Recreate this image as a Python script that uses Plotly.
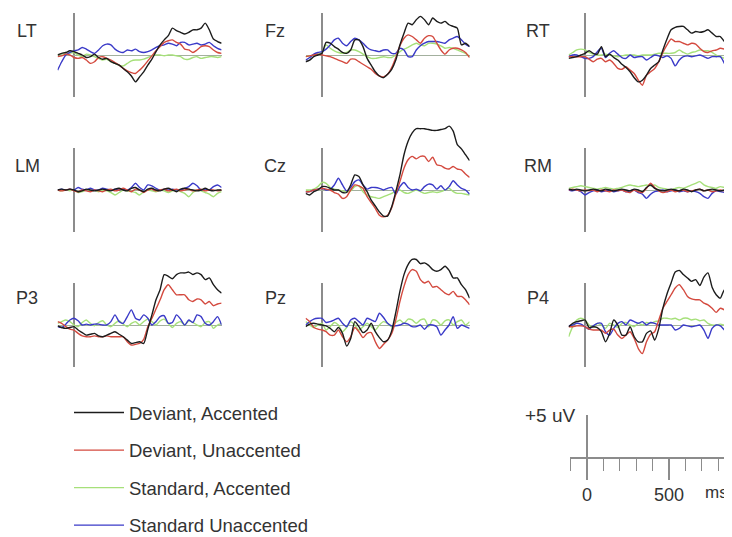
import plotly.graph_objects as go

W, H = 732, 537
TIME_MS = list(range(-100, 901, 25))

CONDITIONS = ["Deviant, Accented", "Deviant, Unaccented", "Standard, Accented", "Standard Unaccented"]
COLORS = ["#1c1c1c", "#d44a3f", "#a6e07a", "#3a3ac8"]
ELECTRODES = ["LT", "Fz", "RT", "LM", "Cz", "RM", "P3", "Pz", "P4"]

# ---- amplitudes (uV), one value per TIME_MS sample ----
LT_DEV_ACC = [0.0, 0.2, 0.3, 0.5, 0.4, 0.2, 0.0, -0.3, -0.2, 0.1, -0.3, -0.5, -0.4, -0.8, -1.0, -1.2, -1.6, -2.0, -2.5, -3.2, -2.6, -2.0, -1.2, -0.5, 0.4, 1.2, 1.8, 2.3, 3.2, 2.9, 2.7, 2.5, 2.7, 3.0, 3.0, 3.2, 3.8, 3.0, 1.9, 1.6, 1.4]
LT_DEV_UNACC = [-0.2, -0.1, 0.1, 0.0, -0.3, -0.4, -0.3, -0.6, -1.0, -0.8, -0.3, -0.2, -0.4, -0.6, -0.9, -1.2, -1.6, -1.9, -2.1, -2.2, -1.8, -1.3, -0.7, -0.1, 0.5, 1.0, 1.5, 1.7, 1.8, 1.5, 1.3, 0.7, 0.6, 0.3, 0.6, 1.0, 1.1, 1.0, 0.6, 0.3, 0.2]
LT_STD_ACC = [0.0, 0.1, 0.3, 0.2, 0.3, 0.0, -0.2, 0.1, 0.0, -0.2, -0.4, -0.6, -0.5, -0.8, -1.0, -1.2, -1.3, -1.0, -0.7, -0.6, -0.6, -0.5, -0.3, -0.1, 0.0, 0.0, -0.1, 0.0, 0.0, -0.1, -0.2, -0.5, -0.5, -0.3, -0.2, -0.4, -0.3, -0.2, -0.2, -0.3, -0.2]
LT_STD_UNACC = [-1.8, -0.8, 0.0, 0.3, 0.5, 0.6, 0.9, 0.7, 0.4, 0.2, 0.6, 1.1, 1.3, 1.2, 0.7, 0.4, 0.3, 0.6, 0.5, 0.7, 0.4, 0.3, 0.4, 0.6, 0.9, 1.1, 1.2, 1.4, 1.3, 1.1, 1.5, 1.5, 1.2, 1.3, 1.4, 1.2, 1.3, 1.5, 1.1, 0.8, 0.6]

FZ_DEV_ACC = [-0.8, -0.6, -0.2, 0.0, 0.2, 1.5, 1.4, 1.0, 0.7, 0.3, 0.2, 0.6, 1.8, 1.8, 1.0, -0.4, -1.2, -2.0, -2.5, -2.7, -2.3, -1.7, -0.6, 1.2, 2.6, 3.8, 3.6, 4.2, 4.6, 4.2, 3.6, 4.4, 4.0, 3.8, 4.0, 3.6, 3.4, 3.2, 1.2, 1.4, 1.0]
FZ_DEV_UNACC = [-0.2, -0.1, 0.0, 0.1, 0.0, -0.1, -0.2, -0.4, -0.6, -0.8, -1.0, -0.5, -0.5, -0.8, -1.1, -1.4, -1.7, -2.2, -2.5, -2.6, -2.3, -1.5, -0.3, 1.1, 2.0, 2.4, 2.2, 1.8, 1.4, 2.0, 2.3, 2.2, 1.4, 0.6, 0.1, 0.6, 0.8, 0.8, 0.6, 0.3, -0.3]
FZ_STD_ACC = [-0.2, -0.1, 0.0, 0.1, 0.3, 1.2, 0.8, 0.5, 0.3, 0.2, 0.3, 0.6, 0.6, 0.4, 0.1, -0.2, -0.4, -0.4, -0.3, -0.2, -0.3, -0.3, 0.0, 0.4, 0.7, 0.9, 1.2, 1.4, 1.2, 1.1, 1.4, 1.4, 1.3, 1.1, 0.8, 0.9, 0.8, 0.6, 0.4, 0.2, -0.2]
FZ_STD_UNACC = [-0.6, -0.3, 0.1, 0.3, 0.4, 0.7, 1.2, 1.8, 2.0, 1.4, 1.1, 1.6, 2.0, 1.8, 1.4, 0.9, 0.6, 0.5, 0.4, 0.6, 0.6, 0.2, 0.2, 0.8, 0.6, -0.2, -0.2, 0.6, 1.1, 1.4, 1.6, 1.6, 1.6, 1.5, 1.4, 1.8, 2.0, 2.2, 1.8, 1.3, 1.0]

RT_DEV_ACC = [-0.4, -0.3, -0.2, 0.0, 0.2, 0.5, 0.2, 0.1, 1.0, -0.2, 0.1, -0.3, -0.6, -1.1, -1.5, -2.0, -2.7, -3.2, -3.0, -2.4, -1.6, -1.2, -0.8, 0.6, 1.9, 3.0, 3.3, 3.4, 3.4, 3.0, 2.6, 2.8, 2.7, 2.8, 3.0, 2.6, 2.2, 2.2, 1.6, 1.3, 1.0]
RT_DEV_UNACC = [-0.2, -0.2, -0.2, -0.2, -0.2, -0.5, -0.8, -0.5, -0.4, -0.8, -0.6, -1.0, -1.6, -1.7, -1.4, -1.8, -2.2, -3.0, -3.6, -2.4, -2.0, -1.6, -0.8, 0.3, 1.2, 1.9, 1.6, 1.6, 1.4, 1.2, 1.4, 1.3, 0.8, 0.4, 0.3, 0.5, 0.6, 0.8, 0.7, 0.5, 0.2]
RT_STD_ACC = [0.0, 0.3, 0.6, 0.7, 0.6, 0.3, 0.1, 0.0, 0.0, 0.1, 0.0, -0.1, -0.2, -0.1, 0.0, 0.0, 0.0, -0.1, 0.0, 0.0, 0.0, 0.1, 0.2, 0.2, 0.2, 0.2, 0.3, 0.6, 0.3, 0.1, 0.3, 0.4, 0.6, 0.5, 0.5, 0.3, 0.0, -0.2, -0.4, -1.0, -1.6]
RT_STD_UNACC = [-0.2, 0.0, 0.0, -0.2, -0.4, -0.4, -0.2, 0.4, 0.8, -0.3, 0.2, 0.5, 0.1, -0.3, -0.4, 0.0, -0.3, -0.2, -0.2, -0.6, -0.3, 0.0, -0.1, -0.3, -0.1, -0.4, -1.3, -0.6, -0.2, -0.1, -0.2, -0.1, 0.0, -0.2, -0.4, -0.2, -0.2, -0.2, -1.0, -2.2, -3.0]

LM_DEV_ACC = [0.0, 0.1, 0.0, 0.1, 0.0, -0.2, -0.1, 0.1, 0.0, -0.1, 0.0, 0.1, 0.0, -0.1, 0.1, 0.2, 0.0, -0.1, 0.2, 0.3, 0.0, -0.2, 0.1, 0.2, 0.0, -0.1, 0.1, 0.2, 0.0, -0.2, 0.1, 0.2, 0.1, 0.0, -0.1, 0.0, 0.2, 0.0, -0.1, 0.0, 0.0]
LM_DEV_UNACC = [0.0, -0.1, 0.0, 0.1, -0.1, -0.2, 0.0, -0.1, -0.2, 0.0, -0.1, -0.2, 0.0, 0.1, -0.1, 0.0, 0.2, 0.0, -0.2, 0.1, 0.0, -0.3, 0.0, 0.1, -0.1, 0.0, 0.1, -0.1, 0.0, 0.1, -0.1, 0.0, 0.1, -0.1, 0.0, 0.1, -0.1, 0.0, 0.0, -0.1, 0.0]
LM_STD_ACC = [0.0, -0.1, 0.0, -0.1, 0.0, -0.3, -0.2, 0.0, -0.1, 0.0, -0.2, 0.0, -0.1, -0.3, -0.6, -0.3, 0.0, -0.1, -0.2, -0.3, -0.6, -0.2, 0.0, -0.1, -0.2, 0.0, -0.1, -0.3, -0.1, 0.0, -0.2, -0.4, -0.8, -0.3, 0.0, -0.1, -0.3, -0.5, -0.8, -0.4, -0.2]
LM_STD_UNACC = [0.0, 0.1, 0.0, 0.1, 0.0, 0.3, 0.1, 0.0, 0.2, 0.0, 0.0, 0.2, 0.1, 0.0, 0.1, 0.0, 0.1, 0.0, 0.3, 0.8, 0.3, 0.0, 0.6, 0.5, 0.2, 0.0, 0.1, 0.0, 0.1, 0.0, 0.0, 0.2, 0.4, 0.8, 0.5, 0.0, 0.1, 0.0, 0.4, 0.6, 0.3]

CZ_DEV_ACC = [-0.4, -0.6, -0.2, 0.0, 0.4, 0.4, 0.2, 0.0, 0.0, -0.3, -0.3, 0.6, 1.8, 1.6, 0.6, -0.2, -1.2, -1.9, -2.6, -3.1, -3.1, -2.0, -0.2, 1.8, 4.2, 5.8, 6.8, 7.3, 7.3, 7.3, 7.2, 7.1, 7.1, 7.2, 7.3, 7.6, 7.0, 5.4, 4.9, 4.2, 3.5]
CZ_DEV_UNACC = [-0.2, -0.2, 0.0, 0.1, 0.2, 0.1, 0.0, -0.3, -0.5, -1.0, -0.8, 0.0, 0.6, 0.5, 0.2, -0.8, -1.5, -2.2, -3.0, -3.2, -3.0, -2.1, -0.5, 1.0, 2.6, 3.6, 4.0, 3.7, 4.0, 4.0, 3.4, 3.9, 3.0, 2.9, 2.6, 2.5, 2.8, 2.5, 2.4, 1.9, 1.5]
CZ_STD_ACC = [0.0, 0.0, 0.1, 0.4, 0.9, 0.8, 0.3, 0.1, 0.0, -0.1, -0.2, -0.1, 0.4, 0.5, -0.2, -0.6, -0.8, -0.9, -1.0, -0.8, -0.6, -0.4, -0.1, 0.0, -0.3, -0.4, -0.2, 0.0, -0.2, -0.4, -0.3, -0.2, -0.3, -0.2, 0.0, 0.2, -0.2, -0.4, -0.4, -0.5, -0.6]
CZ_STD_UNACC = [-0.2, -0.2, 0.0, 0.1, 0.2, 0.0, 0.1, 0.6, 1.4, 0.6, -0.1, 0.3, 1.0, 1.2, 0.6, 0.1, 0.3, 0.3, 0.2, 0.0, 0.2, 0.3, -0.5, 0.4, 0.9, 0.3, 0.0, 0.1, -0.1, 0.4, 0.7, 0.6, 0.1, 0.5, 0.0, 0.4, 1.1, 0.6, 0.2, 0.0, -0.5]

RM_DEV_ACC = [0.1, 0.0, 0.1, 0.0, -0.1, 0.0, 0.1, 0.0, -0.1, 0.1, 0.0, -0.1, 0.0, 0.1, 0.0, -0.1, 0.1, 0.0, -0.2, 0.3, 0.6, 0.2, 0.0, -0.1, 0.0, 0.1, 0.0, -0.1, 0.1, 0.0, -0.2, 0.0, 0.1, -0.1, 0.0, 0.1, 0.0, -0.1, 0.0, 0.1, 0.0]
RM_DEV_UNACC = [0.0, 0.1, 0.0, -0.1, 0.0, -0.1, 0.0, -0.2, 0.0, -0.1, -0.2, 0.0, -0.1, 0.0, -0.2, -0.3, 0.0, -0.2, -0.3, 0.2, 0.8, 0.3, -0.1, -0.3, -0.2, 0.0, -0.2, -0.1, 0.0, -0.2, -0.1, 0.0, 0.1, -0.1, 0.0, -0.2, -0.1, 0.0, -0.1, -0.2, -0.1]
RM_STD_ACC = [0.2, 0.3, 0.4, 0.5, 0.4, 0.3, 0.2, 0.1, 0.2, 0.3, 0.2, 0.1, 0.2, 0.3, 0.5, 0.6, 0.5, 0.4, 0.5, 0.6, 0.5, 0.6, 0.3, 0.2, 0.1, 0.0, 0.2, 0.3, 0.2, 0.4, 0.6, 0.8, 1.0, 0.6, 0.4, 0.3, 0.2, 0.4, 0.3, 0.2, 0.2]
RM_STD_UNACC = [0.0, -0.1, 0.0, -0.2, -0.6, -0.3, -0.1, 0.0, -0.2, -0.1, 0.0, -0.2, -0.1, 0.0, -0.2, -0.1, 0.0, -0.3, -0.5, -1.0, -0.5, -0.2, -0.1, 0.0, -0.2, -0.1, 0.0, -0.2, -0.1, -0.2, -0.1, -0.2, -0.4, -0.8, -1.0, -0.4, -0.1, -0.2, -0.3, -0.8, -0.6]

P3_DEV_ACC = [-0.1, -0.3, -0.4, -0.3, -0.2, -0.6, -0.9, -1.2, -1.1, -1.0, -1.3, -1.4, -1.2, -1.0, -0.8, -1.1, -1.4, -1.8, -2.2, -2.1, -2.0, -2.2, -0.5, 1.2, 3.0, 4.2, 6.0, 5.8, 5.5, 6.0, 6.2, 6.2, 6.3, 6.0, 6.2, 6.0, 5.4, 5.6, 4.8, 4.2, 3.8]
P3_DEV_UNACC = [0.4, 0.2, -0.2, -0.5, -0.6, -1.0, -1.3, -1.4, -1.4, -1.3, -1.4, -1.4, -1.3, -1.4, -1.4, -1.4, -1.4, -2.0, -2.4, -2.3, -2.2, -1.7, -0.2, 0.8, 1.9, 3.0, 4.2, 4.8, 4.2, 3.6, 3.6, 3.6, 3.0, 2.8, 3.1, 3.0, 2.5, 2.8, 2.3, 2.5, 2.6]
P3_STD_ACC = [0.2, 0.4, 0.6, 0.4, 0.0, -0.2, 0.3, 0.6, 0.2, -0.1, 0.3, 0.5, 0.0, -0.2, 0.2, 0.5, 0.1, -0.2, 0.2, 0.4, 0.0, 0.4, 0.7, 0.4, 0.0, 0.5, 0.7, 0.2, -0.3, 0.2, 0.4, 0.0, 0.5, 0.3, 0.0, -0.2, 0.3, 0.4, -0.4, 0.0, 0.2]
P3_STD_UNACC = [-0.2, -0.3, 0.1, 0.6, 0.8, 0.5, 0.0, 0.1, 0.0, 0.1, 0.1, 0.0, 0.0, 0.4, 1.2, 0.4, 0.2, 1.0, 1.8, 0.8, 0.6, 1.2, 0.8, 0.0, 0.4, 1.0, 1.1, 0.2, 0.3, 1.2, 0.7, 0.0, 0.6, 0.3, 1.2, 1.0, 0.2, 0.0, 0.4, 1.0, 0.0]

PZ_DEV_ACC = [-0.2, 0.1, 0.2, 0.1, 0.0, -0.1, -0.4, -0.8, -0.3, -1.0, -2.5, -1.6, 0.4, -0.2, -0.9, -0.6, 0.2, -0.8, -1.5, -2.0, -1.8, -0.7, 1.5, 4.0, 6.0, 7.2, 7.8, 7.8, 7.3, 7.4, 7.1, 6.6, 6.4, 6.6, 7.0, 6.5, 5.6, 5.6, 4.8, 4.2, 3.2]
PZ_DEV_UNACC = [0.8, 0.4, -0.3, -0.5, -0.6, -0.8, -1.2, -1.2, -0.6, -1.4, -2.0, -1.4, -0.3, -0.8, -1.5, -1.0, -0.9, -2.0, -2.8, -2.3, -1.8, -1.0, 0.6, 2.8, 4.6, 6.0, 6.6, 6.4, 5.4, 5.0, 5.2, 4.5, 4.6, 4.2, 3.8, 3.6, 4.0, 3.4, 3.4, 3.0, 2.4]
PZ_STD_ACC = [0.4, 0.0, -0.3, 0.0, 0.2, -0.6, -0.2, 0.3, 0.0, -0.8, -0.3, 0.4, 0.0, -0.6, -0.2, 0.2, -0.2, -0.6, 0.0, 0.4, 0.2, -0.2, 0.3, 0.6, 0.2, 0.7, 0.6, 0.2, 0.6, 0.7, -0.2, 0.6, 0.5, 0.0, 0.5, 0.6, 0.0, 0.4, 0.6, 0.0, 0.4]
PZ_STD_UNACC = [0.0, 0.4, 0.7, 0.8, 0.8, 0.3, 0.4, 0.6, 0.8, 0.2, -0.2, 0.6, 0.8, 0.4, 0.0, 0.8, 0.6, 0.4, 1.4, 0.9, 0.2, -0.1, -0.1, 0.0, 0.2, 0.1, -0.2, -0.2, 0.0, -0.5, 0.0, 0.0, -0.2, -1.2, -0.6, 0.0, 1.0, -0.4, 0.0, -0.2, -0.4]

P4_DEV_ACC = [-0.2, 0.2, 0.4, 0.5, 0.6, -0.3, -0.2, -0.3, -0.8, -2.0, -1.0, 0.6, 0.0, -1.2, -1.2, -0.2, -1.4, -2.0, -2.0, -1.0, -0.7, -1.8, -0.4, 2.0, 3.7, 5.0, 6.3, 6.5, 6.0, 5.6, 5.2, 5.4, 4.7, 5.7, 6.2, 4.5, 3.6, 3.2, 4.2, 3.4, 1.8]
P4_DEV_UNACC = [-0.2, -0.2, -0.1, -0.1, -0.2, -0.5, -0.6, -0.6, -0.6, -1.0, -0.6, -0.5, -1.2, -1.6, -1.2, -0.8, -1.6, -2.8, -3.4, -2.0, -1.1, -0.8, 0.6, 2.0, 2.8, 3.6, 4.4, 4.8, 4.2, 3.4, 3.1, 3.0, 3.0, 2.6, 2.4, 2.0, 1.5, 2.0, 1.8, 1.4, 1.0]
P4_STD_ACC = [-1.4, -0.2, 0.6, 0.8, 0.6, 0.0, -0.3, 0.2, 0.0, -0.4, 0.2, 0.0, -0.3, 0.2, 0.3, 0.0, -0.2, 0.2, 0.0, 0.3, 0.2, 0.4, 0.5, 0.8, 0.8, 0.7, 0.8, 0.6, 0.8, 0.8, 0.6, 0.7, 0.5, 0.6, 0.2, 0.0, 0.0, 0.1, 0.0, 0.0, 0.0]
P4_STD_UNACC = [-0.1, 0.0, 0.2, 0.1, -0.2, -0.5, -0.1, 0.2, 0.2, -0.8, -1.2, -0.4, 0.2, 0.4, 0.0, 0.6, 0.4, 0.2, 0.4, 0.0, 0.3, 0.2, 0.0, 0.0, 0.0, 0.0, -0.6, -0.4, 0.0, -0.1, -0.2, -0.1, 0.0, -0.6, -1.6, -0.4, 0.0, -0.1, -0.6, -1.2, -1.2]

SERIES = {
    "LT": [LT_DEV_ACC, LT_DEV_UNACC, LT_STD_ACC, LT_STD_UNACC],
    "Fz": [FZ_DEV_ACC, FZ_DEV_UNACC, FZ_STD_ACC, FZ_STD_UNACC],
    "RT": [RT_DEV_ACC, RT_DEV_UNACC, RT_STD_ACC, RT_STD_UNACC],
    "LM": [LM_DEV_ACC, LM_DEV_UNACC, LM_STD_ACC, LM_STD_UNACC],
    "Cz": [CZ_DEV_ACC, CZ_DEV_UNACC, CZ_STD_ACC, CZ_STD_UNACC],
    "RM": [RM_DEV_ACC, RM_DEV_UNACC, RM_STD_ACC, RM_STD_UNACC],
    "P3": [P3_DEV_ACC, P3_DEV_UNACC, P3_STD_ACC, P3_STD_UNACC],
    "Pz": [PZ_DEV_ACC, PZ_DEV_UNACC, PZ_STD_ACC, PZ_STD_UNACC],
    "P4": [P4_DEV_ACC, P4_DEV_UNACC, P4_STD_ACC, P4_STD_UNACC],
}

SCALE_TICKS_MS = [0, 500]
SCALE_MINOR_MS = 100
SCALE_UV = 5
SCALE_UNIT_MS_POS = 790

# ---- layout geometry, in window pixels ----
PAGE_MARGIN = 8          # default <body> margin of the written HTML page
FIG_W, FIG_H = W - PAGE_MARGIN, H - PAGE_MARGIN
COL_ZERO_PX = [74, 322, 585]
ROW_BASE_PX = [55, 190, 325]
LABEL_DY = [-24, -24, -27]
PX_PER_MS = 0.164
PX_PER_UV = 8.4
FONT = "Liberation Sans, Arial, Helvetica, sans-serif"
TXT = "#333333"
AXIS_GRAY = "#8c8c8c"


def fx(px):
    return (px - PAGE_MARGIN) / FIG_W


def fy(py):
    return 1 - (py - PAGE_MARGIN) / FIG_H


fig = go.Figure()
layout = {}
annotations = []
shapes = []

draw_order = [2, 3, 1, 0]
for i, name in enumerate(ELECTRODES):
    r, c = divmod(i, 3)
    zx, by = COL_ZERO_PX[c], ROW_BASE_PX[r]
    left = zx + TIME_MS[0] * PX_PER_MS
    right = min(W, zx + TIME_MS[-1] * PX_PER_MS)
    top = max(PAGE_MARGIN, by - 72)
    bottom = by + 45
    n = i + 1
    sfx = "" if n == 1 else str(n)
    layout["xaxis" + sfx] = dict(
        domain=[fx(left), fx(right)],
        range=[(left - zx) / PX_PER_MS, (right - zx) / PX_PER_MS],
        visible=False, fixedrange=True, anchor="y" + sfx)
    layout["yaxis" + sfx] = dict(
        domain=[fy(bottom), fy(top)],
        range=[-(bottom - by) / PX_PER_UV, (by - top) / PX_PER_UV],
        showticklabels=False, showgrid=False, showline=False, ticks="",
        zeroline=True, zerolinecolor="#a3b09e", zerolinewidth=1,
        fixedrange=True, anchor="x" + sfx)
    for k in draw_order:
        fig.add_trace(go.Scatter(
            x=TIME_MS, y=SERIES[name][k], mode="lines",
            line=dict(color=COLORS[k], width=1.4, shape="spline", smoothing=0.6),
            name=CONDITIONS[k], legendgroup=CONDITIONS[k], legendrank=k + 1,
            showlegend=(i == 0), xaxis="x" + sfx, yaxis="y" + sfx,
            hoverinfo="skip"))
    shapes.append(dict(type="line", xref="x" + sfx, yref="y" + sfx,
                       x0=0, x1=0, y0=-SCALE_UV, y1=SCALE_UV,
                       line=dict(color=AXIS_GRAY, width=2), layer="below"))
    annotations.append(dict(text=name, xref="paper", yref="paper",
                            x=fx(zx - 47), y=fy(by + LABEL_DY[r]),
                            xanchor="center", yanchor="middle", showarrow=False,
                            font=dict(size=18, color=TXT, family=FONT)))

# ---- scale bar as its own axes ----
sb_zero, sb_base = 587, 457
sb_left, sb_right = 570, W
layout["xaxis10"] = dict(
    domain=[fx(sb_left), fx(sb_right)],
    range=[(sb_left - sb_zero) / PX_PER_MS, (sb_right - sb_zero) / PX_PER_MS],
    showline=True, linecolor=AXIS_GRAY, linewidth=1.5,
    zeroline=True, zerolinecolor=AXIS_GRAY, zerolinewidth=2,
    showgrid=False, ticks="outside", tickvals=SCALE_TICKS_MS,
    ticklen=21, tickwidth=1.5, tickcolor=AXIS_GRAY,
    minor=dict(dtick=SCALE_MINOR_MS, ticks="outside", ticklen=12, tickwidth=1.2,
               tickcolor=AXIS_GRAY, showgrid=False),
    tickfont=dict(size=18, color=TXT, family=FONT),
    anchor="y10", fixedrange=True)
layout["yaxis10"] = dict(
    domain=[fy(sb_base), fy(sb_base - SCALE_UV * PX_PER_UV)],
    range=[0, SCALE_UV], visible=False, anchor="x10", fixedrange=True)
fig.add_trace(go.Scatter(x=[], y=[], xaxis="x10", yaxis="y10", showlegend=False))
annotations.append(dict(text="+5 uV", xref="x10", yref="y10", x=0, y=SCALE_UV,
                        xanchor="right", yanchor="middle", xshift=-9, showarrow=False,
                        font=dict(size=19, color=TXT, family=FONT)))
annotations.append(dict(text="ms", xref="x10", yref="y10", x=SCALE_UNIT_MS_POS, y=0,
                        xanchor="center", yanchor="top", yshift=-24, showarrow=False,
                        font=dict(size=17, color=TXT, family=FONT)))

fig.update_layout(
    width=FIG_W, height=FIG_H,
    margin=dict(l=0, r=0, t=0, b=0, autoexpand=False),
    paper_bgcolor="white", plot_bgcolor="white",
    annotations=annotations, shapes=shapes,
    showlegend=True,
    legend=dict(x=fx(69), y=fy(394), xanchor="left", yanchor="top",
                font=dict(size=18.5, color=TXT, family=FONT),
                tracegroupgap=10.5, itemwidth=50, bgcolor="rgba(0,0,0,0)",
                traceorder="grouped"),
    hovermode=False,
    **layout)

fig.write_html("out.html")
